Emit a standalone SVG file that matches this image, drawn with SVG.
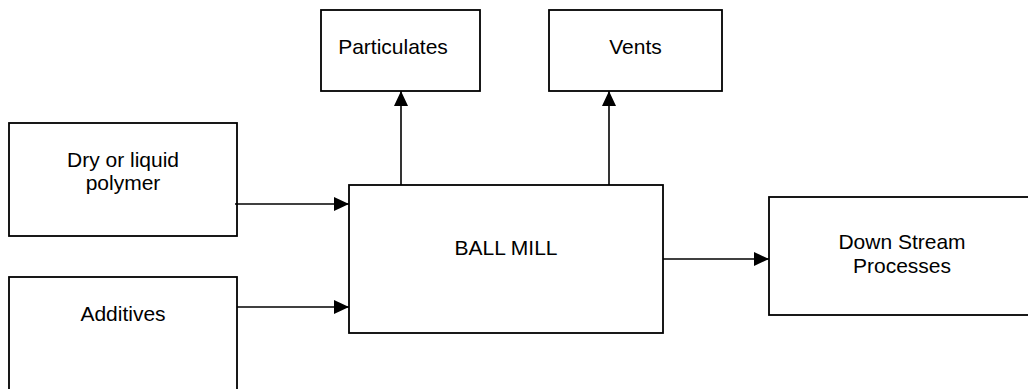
<svg xmlns="http://www.w3.org/2000/svg" width="1028" height="389" viewBox="0 0 1028 389">
<style>
.box{fill:#fff;stroke:#000;stroke-width:1.8}
.lbl{font-family:"Liberation Sans",Arial,sans-serif;font-size:21px;fill:#000;text-anchor:middle}
.conn{stroke:#000;stroke-width:1.6;fill:none}
</style>
<defs>
<marker id="ah" markerUnits="userSpaceOnUse" markerWidth="15" markerHeight="14" refX="15" refY="7" orient="auto">
<path d="M0,0 L15,7 L0,14 Z" fill="#000"/>
</marker>
</defs>
<rect width="1028" height="389" fill="#fff"/>
<g id="n-dry"><rect class="box" x="9" y="123" width="228" height="113"/>
<text class="lbl" x="123" y="167">Dry or liquid</text><text class="lbl" x="123" y="190">polymer</text></g>
<g id="n-additives"><rect class="box" x="9" y="277" width="228" height="130"/>
<text class="lbl" x="123" y="321">Additives</text></g>
<g id="n-ballmill"><rect class="box" x="349" y="185" width="314" height="148"/>
<text class="lbl" x="506" y="255">BALL MILL</text></g>
<g id="n-particulates"><rect class="box" x="321" y="10" width="159" height="81"/>
<text class="lbl" x="393" y="54">Particulates</text></g>
<g id="n-vents"><rect class="box" x="549" y="10" width="173" height="81"/>
<text class="lbl" x="635.5" y="54">Vents</text></g>
<g id="n-downstream"><rect class="box" x="769" y="197" width="266" height="118"/>
<text class="lbl" x="902" y="249">Down Stream</text><text class="lbl" x="902" y="273">Processes</text></g>
<g id="connectors">
<line class="conn" x1="235" y1="204" x2="349" y2="204" marker-end="url(#ah)"/>
<line class="conn" x1="237" y1="307" x2="349" y2="307" marker-end="url(#ah)"/>
<line class="conn" x1="401" y1="185" x2="401" y2="91" marker-end="url(#ah)"/>
<line class="conn" x1="609" y1="185" x2="609" y2="91" marker-end="url(#ah)"/>
<line class="conn" x1="663" y1="259" x2="769" y2="259" marker-end="url(#ah)"/>
</g>
</svg>
